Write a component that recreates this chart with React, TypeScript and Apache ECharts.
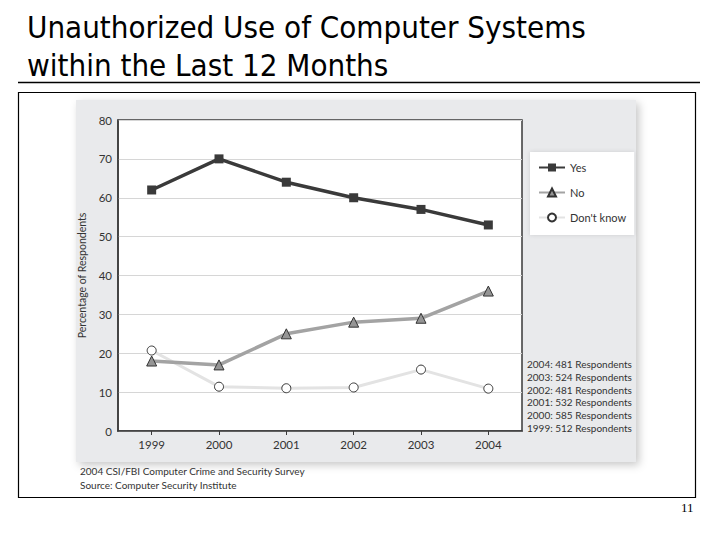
import React, { useEffect, useRef } from "react";
import * as echarts from "echarts";

const years = ["1999", "2000", "2001", "2002", "2003", "2004"];
const yesValues = [62, 70, 64, 60, 57, 53];
const noValues = [18, 17, 25, 28, 29, 36];
const dontKnowValues = [20.7, 11.4, 11, 11.2, 15.8, 10.9];
const yTicks = { min: 0, max: 80, interval: 10 };
const respondentLines = [
  "2004: 481 Respondents",
  "2003: 524 Respondents",
  "2002: 481 Respondents",
  "2001: 532 Respondents",
  "2000: 585 Respondents",
  "1999: 512 Respondents",
];
const titleLines = ["Unauthorized Use of Computer Systems", "within the Last 12 Months"];
const footerLines = ["2004 CSI/FBI Computer Crime and Security Survey", "Source: Computer Security Institute"];
const pageNumber = "11";

const chartFont = "Lato, 'Open Sans', sans-serif";
const ink = "#333333";

export default function App() {
  const ref = useRef<HTMLDivElement>(null);
  useEffect(() => {
    if (!ref.current) return;
    const chart = echarts.init(ref.current, undefined, { renderer: "svg" });
    const graphics: any[] = [
      ...titleLines.map((t, i) => ({
        type: "text",
        x: 27,
        y: 11 + i * 38,
        z: 10,
        style: {
          text: t,
          fill: "#000",
          font: "31px 'DejaVu Sans Condensed', 'DejaVu Sans', sans-serif",
          textVerticalAlign: "top",
        },
      })),
      {
        type: "line",
        z: 10,
        shape: { x1: 18, y1: 82.5, x2: 700, y2: 82.5 },
        style: { stroke: "#000", lineWidth: 1.5 },
      },
      {
        type: "rect",
        z: -20,
        shape: { x: 18.5, y: 92.5, width: 677, height: 405 },
        style: { fill: "#fff", stroke: "#000", lineWidth: 1.2 },
      },
      {
        type: "rect",
        z: -10,
        shape: { x: 76, y: 100, width: 560, height: 362 },
        style: {
          fill: "#e9eaec",
          shadowBlur: 8,
          shadowColor: "rgba(0,0,0,0.22)",
          shadowOffsetX: 3,
          shadowOffsetY: 3,
        },
      },
      ...respondentLines.map((t, i) => ({
        type: "text",
        x: 527,
        y: 364 + i * 12.8,
        z: 10,
        style: {
          text: t,
          fill: ink,
          font: `10px ${chartFont}`,
          textVerticalAlign: "middle",
        },
      })),
      ...footerLines.map((t, i) => ({
        type: "text",
        x: 80,
        y: 471 + i * 14,
        z: 10,
        style: {
          text: t,
          fill: ink,
          font: `10px ${chartFont}`,
          textVerticalAlign: "middle",
        },
      })),
      {
        type: "text",
        x: 681,
        y: 507,
        z: 10,
        style: {
          text: pageNumber,
          fill: "#000",
          font: "13px 'Liberation Serif', 'DejaVu Serif', serif",
          textVerticalAlign: "middle",
        },
      },
    ];

    chart.setOption({
      animation: false,
      textStyle: { fontFamily: chartFont },
      graphic: { elements: graphics },
      grid: {
        left: 118,
        top: 120,
        width: 404,
        height: 311,
        show: true,
        backgroundColor: "#fff",
        borderColor: "#3a3a3a",
        borderWidth: 1.5,
        containLabel: false,
      },
      legend: {
        orient: "vertical",
        left: 530,
        top: 152,
        backgroundColor: "#fff",
        padding: [10, 8, 12, 8],
        itemGap: 14,
        itemWidth: 26,
        itemHeight: 10,
        shadowBlur: 4,
        shadowColor: "rgba(0,0,0,0.12)",
        textStyle: { color: ink, fontSize: 11, fontFamily: chartFont },
        data: ["Yes", "No", "Don't know"],
      },
      xAxis: {
        type: "category",
        data: years,
        boundaryGap: true,
        axisLine: { lineStyle: { color: "#3a3a3a", width: 1.5 } },
        axisTick: { show: true, alignWithLabel: true, length: 4, lineStyle: { color: "#3a3a3a" } },
        axisLabel: { color: ink, fontSize: 11.5, margin: 7 },
        splitLine: { show: false },
      },
      yAxis: {
        type: "value",
        min: yTicks.min,
        max: yTicks.max,
        interval: yTicks.interval,
        name: "Percentage of Respondents",
        nameLocation: "middle",
        nameRotate: 90,
        nameGap: 26,
        nameTextStyle: { color: ink, fontSize: 10.5 },
        axisLine: { show: true, lineStyle: { color: "#3a3a3a", width: 1.5 } },
        axisTick: { show: false },
        axisLabel: { color: ink, fontSize: 11.5, margin: 6 },
        splitLine: { lineStyle: { color: "#d6d6d6", width: 1 } },
      },
      series: [
        {
          name: "Don't know",
          type: "line",
          data: dontKnowValues,
          symbol: "circle",
          symbolSize: 9,
          z: 2,
          lineStyle: { color: "#e3e3e3", width: 3 },
          itemStyle: { color: "#ffffff", borderColor: "#333", borderWidth: 1 },
        },
        {
          name: "No",
          type: "line",
          data: noValues,
          symbol: "triangle",
          symbolSize: 10,
          z: 3,
          lineStyle: { color: "#a3a3a3", width: 3.5 },
          itemStyle: { color: "#959595", borderColor: "#333", borderWidth: 1 },
        },
        {
          name: "Yes",
          type: "line",
          data: yesValues,
          symbol: "rect",
          symbolSize: 9,
          z: 4,
          lineStyle: { color: "#3a3a3a", width: 3.5 },
          itemStyle: { color: "#3a3a3a" },
        },
      ],
    });
    return () => chart.dispose();
  }, []);
  return (
    <div
      ref={ref}
      style={{ position: "fixed", left: 0, top: 0, width: 720, height: 540, background: "#fff" }}
    />
  );
}
